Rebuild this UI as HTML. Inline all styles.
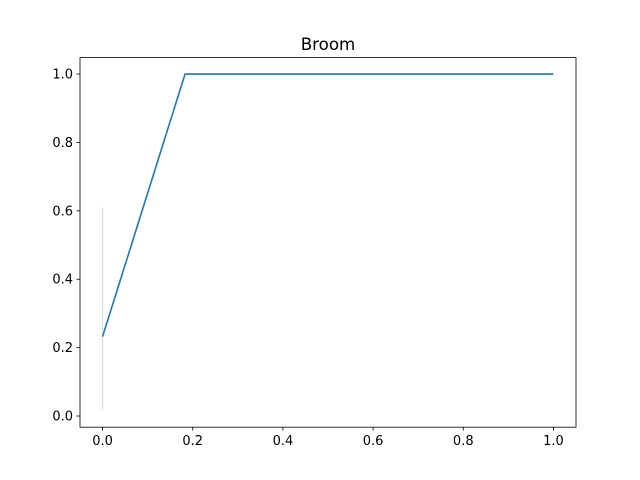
<!DOCTYPE html>
<html><head><meta charset="utf-8"><style>body{margin:0;background:#fff}svg{display:block}</style></head>
<body>
<svg id="chart" width="640" height="480" xmlns="http://www.w3.org/2000/svg" font-family="'DejaVu Sans','Liberation Sans',sans-serif">
<rect width="640" height="480" fill="#fff"/>
<text x="328" y="50" font-size="16.7" text-anchor="middle">Broom</text>
<g id="marks"></g>
<g id="axes"></g>
</svg>
<script>
const xValues = [0, 0.183, 1];
const yValues = [0.232, 1, 1];
const bandX = [0, 0];
const bandY = [0.02, 0.61];
const xTicks = [0, 0.2, 0.4, 0.6, 0.8, 1.0];
const yTicks = [0, 0.2, 0.4, 0.6, 0.8, 1.0];
const xTickLabels = ["0.0","0.2","0.4","0.6","0.8","1.0"];
const yTickLabels = ["0.0","0.2","0.4","0.6","0.8","1.0"];

const L=80,R=576,T=57.6,B=427.2;
const x0=-0.05,x1=1.05,y0=-0.0327,y1=1.048;
const sx=v=>L+(v-x0)/(x1-x0)*(R-L);
const sy=v=>B-(v-y0)/(y1-y0)*(B-T);
const NS="http://www.w3.org/2000/svg";
const marks=document.getElementById('marks'), axes=document.getElementById('axes');
function mk(tag,attrs,parent){const e=document.createElementNS(NS,tag);for(const k in attrs)e.setAttribute(k,attrs[k]);parent.appendChild(e);return e;}

const band=mk('line',{x1:sx(bandX[0]),y1:sy(bandY[0]),x2:sx(bandX[1]),y2:sy(bandY[1]),stroke:'#dddddd','stroke-width':1.2},marks);



const line=mk('polyline',{points:xValues.map((v,i)=>sx(v)+','+sy(yValues[i])).join(' '),fill:'none',stroke:'#1f77b4','stroke-width':1.6},marks);



const frame=mk('rect',{x:L,y:T,width:R-L,height:B-T,fill:'none',stroke:'#000','stroke-width':0.8},axes);



xTicks.forEach((v,i)=>{
  const t=mk('line',{x1:sx(v),x2:sx(v),y1:B,y2:B+3.5,stroke:'#000','stroke-width':0.8},axes);
  
  
  const l=mk('text',{x:sx(v),y:B+18,'font-size':13,'text-anchor':'middle'},axes);
  l.textContent=xTickLabels[i];
  
  
});
yTicks.forEach((v,i)=>{
  const t=mk('line',{x1:L-3.5,x2:L,y1:sy(v),y2:sy(v),stroke:'#000','stroke-width':0.8},axes);
  
  
  const l=mk('text',{x:L-7,y:sy(v)+4.5,'font-size':13,'text-anchor':'end'},axes);
  l.textContent=yTickLabels[i];
  
  
});
</script>
</body></html>
